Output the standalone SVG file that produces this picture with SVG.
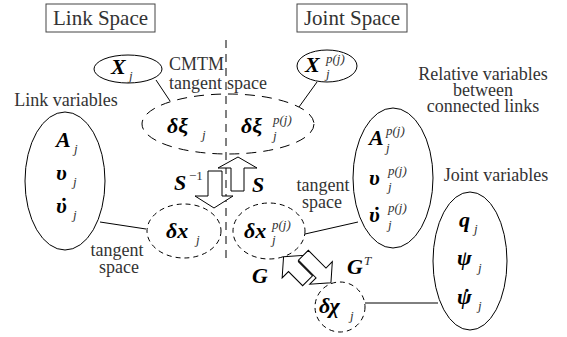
<svg xmlns="http://www.w3.org/2000/svg" width="567" height="337" viewBox="0 0 567 337" font-family="Liberation Serif, Tinos, Times New Roman, DejaVu Serif, serif">
<style>
text{font-family:Liberation Serif,Tinos,"Times New Roman","DejaVu Serif",serif}
.lbl{font-size:18px;fill:#333}
.ttl{font-size:21px;fill:#333}
.m{font-size:22px;font-weight:bold;font-style:italic;fill:#000}
.dt{font-size:22px;font-weight:bold;fill:#000}
.s{font-size:13px;font-style:italic;fill:#333}
.sr{font-size:13px;fill:#333}
.e{fill:none;stroke:#000;stroke-width:1}
.dl{fill:none;stroke:#000;stroke-width:1;stroke-dasharray:10 7}
.ds{fill:none;stroke:#000;stroke-width:1;stroke-dasharray:5 4}
.ln{stroke:#000;stroke-width:1;fill:none}
.ba{fill:#fff;stroke:#000;stroke-width:1;stroke-linejoin:miter}
</style>
<rect width="567" height="337" fill="#fff"/>
<g id="link-space-title"><rect x="46" y="4" width="109" height="28" fill="none" stroke="#444"/><text class="ttl" x="100.5" y="25" text-anchor="middle">Link Space</text></g>
<g id="joint-space-title"><rect x="297" y="4" width="110" height="28" fill="none" stroke="#444"/><text class="ttl" x="352" y="25" text-anchor="middle">Joint Space</text></g>
<line class="ln" x1="226" y1="40" x2="226" y2="262" stroke-dasharray="8 6"/>
<g id="labels">
<text class="lbl" x="169" y="70">CMTM</text>
<text class="lbl" x="169" y="89">tangent</text>
<text class="lbl" x="227" y="89">space</text>
<text class="lbl" x="66" y="106" text-anchor="middle">Link variables</text>
<text class="lbl" x="483" y="80" text-anchor="middle">Relative variables</text>
<text class="lbl" x="483" y="96" text-anchor="middle">between</text>
<text class="lbl" x="483" y="112" text-anchor="middle">connected links</text>
<text class="lbl" x="496" y="181" text-anchor="middle">Joint variables</text>
<text class="lbl" x="117" y="256" text-anchor="middle">tangent</text>
<text class="lbl" x="119" y="273" text-anchor="middle">space</text>
<text class="lbl" x="323" y="191" text-anchor="middle">tangent</text>
<text class="lbl" x="322" y="208" text-anchor="middle">space</text>
</g>
<g id="connectors">
<line class="ln" x1="156" y1="80" x2="170" y2="101"/>
<line class="ln" x1="317" y1="82" x2="299" y2="107"/>
<line class="ln" x1="100" y1="222" x2="146" y2="229"/>
<line class="ln" x1="305" y1="234" x2="358" y2="222"/>
<line class="ln" x1="365" y1="303" x2="438" y2="303"/>
<polygon class="ba" points="231,191 231,168 218,168 238,157 257,168 244,168 244,191"/>
<polygon class="ba" points="208,171 222,171 222,196 233,196 214,208 195,196 208,196"/>
<g transform="rotate(45)">
<polygon class="ba" points="382,-19 396,-35 396,-26 416,-26 416,-12 396,-12 396,-3"/>
<polygon class="ba" points="434,-34 420,-50 420,-41 395,-41 395,-27 420,-27 420,-18"/>
</g>
<text class="m" x="174" y="190">S</text><text class="sr" x="189" y="180">−1</text>
<text class="m" x="252" y="192">S</text>
<text class="m" x="252" y="283">G</text>
<text class="m" x="347" y="274">G</text><text class="s" x="364" y="265">T</text>
</g>
<g id="X-j"><ellipse class="e" cx="128" cy="69" rx="34" ry="14"/><text class="m" x="111" y="74">X</text><text class="s" x="129" y="80">j</text></g>
<g id="X-pj"><ellipse class="e" cx="327" cy="66" rx="30" ry="16"/><text class="m" x="305" y="72">X</text><text class="s" x="326" y="63">p(j)</text><text class="s" x="326" y="78">j</text></g>
<g id="cmtm-tangent"><ellipse class="dl" cx="228" cy="124" rx="86" ry="30"/>
<text class="m" x="167" y="133">δξ</text><text class="s" x="202" y="139">j</text>
<text class="m" x="241" y="133">δξ</text><text class="s" x="273" y="124">p(j)</text><text class="s" x="273" y="140">j</text></g>
<g id="link-variables"><ellipse class="e" cx="65" cy="181" rx="40" ry="69"/>
<text class="m" x="56" y="147">A</text><text class="s" x="74" y="153">j</text>
<text class="m" x="56" y="180">υ</text><text class="s" x="73" y="186">j</text>
<text class="m" x="56" y="213">υ</text><text class="dt" x="64" y="213" text-anchor="middle">˙</text><text class="s" x="73" y="219">j</text></g>
<g id="relative-variables"><ellipse class="e" cx="393" cy="178" rx="40" ry="70"/>
<text class="m" x="369" y="145">A</text><text class="s" x="386" y="135">p(j)</text><text class="s" x="386" y="152">j</text>
<text class="m" x="369" y="185">υ</text><text class="s" x="388" y="175">p(j)</text><text class="s" x="388" y="191">j</text>
<text class="m" x="369" y="222">υ</text><text class="dt" x="377" y="222" text-anchor="middle">˙</text><text class="s" x="388" y="212">p(j)</text><text class="s" x="388" y="229">j</text></g>
<g id="joint-variables"><ellipse class="e" cx="470" cy="261" rx="37" ry="69"/>
<text class="m" x="459" y="227">q</text><text class="s" x="474" y="233">j</text>
<text class="m" x="457" y="265">ψ</text><text class="s" x="478" y="272">j</text>
<text class="m" x="457" y="304">ψ</text><text class="dt" x="467" y="304" text-anchor="middle">˙</text><text class="s" x="478" y="310">j</text></g>
<g id="dx-j"><ellipse class="ds" cx="184" cy="231" rx="37" ry="27"/><text class="m" x="166" y="238">δx</text><text class="s" x="196" y="244">j</text></g>
<g id="dx-pj"><ellipse class="ds" cx="269" cy="231" rx="36" ry="28"/><text class="m" x="244" y="238">δx</text><text class="s" x="272" y="229">p(j)</text><text class="s" x="272" y="244">j</text></g>
<g id="dchi-j"><ellipse class="ds" cx="340" cy="307" rx="25" ry="25"/><text class="m" x="319" y="313">δχ</text><text class="s" x="350" y="320">j</text></g>
</svg>
